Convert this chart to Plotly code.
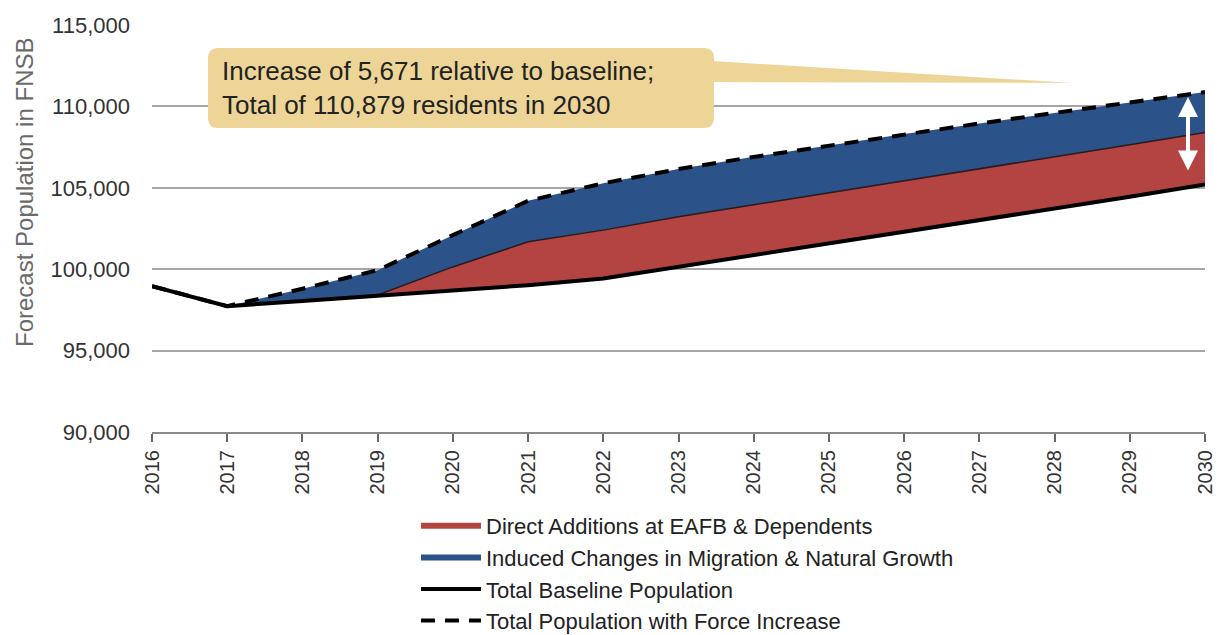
import plotly.graph_objects as go

# FNSB population forecast
years = list(range(2016, 2031))
baseline = [98960, 97730, 98050, 98370, 98700, 99020, 99430, 100150,
            100860, 101560, 102260, 102990, 103700, 104450, 105208]
direct = [0, 0, 0, 50, 1440, 2660, 2970, 3070, 3100, 3130, 3170, 3170, 3200, 3190, 3182]
induced = [0, 0, 750, 1520, 1950, 2520, 2880, 2930, 2940, 2910, 2870, 2790, 2700, 2600, 2489]

with_direct = [b + d for b, d in zip(baseline, direct)]
total = [w + i for w, i in zip(with_direct, induced)]

callout_text = "Increase of 5,671 relative to baseline;<br>Total of 110,879 residents in 2030"

RED = "#B44442"
BLUE = "#2C528A"
TAN = "#EDD597"
NARROW = "Liberation Sans Narrow, Arial Narrow, Liberation Sans, Arial, sans-serif"
ARIAL = "Liberation Sans, Arial, sans-serif"

# page offset (body margin) and plot area in window pixels
OFF = 8
W, H = 1224 - OFF, 635 - OFF
L, R, T, B = 152, 1205, 25, 432
X0, X1, Y0, Y1 = 2016, 2030, 90000, 115000


def px_x(p):
    return X0 + (p - L) / (R - L) * (X1 - X0)


def px_y(p):
    return Y1 - (p - T) / (B - T) * (Y1 - Y0)


fig = go.Figure()

fig.add_trace(go.Scatter(x=years, y=baseline, mode="lines", line=dict(width=0),
                         showlegend=False, hoverinfo="skip"))
fig.add_trace(go.Scatter(x=years, y=with_direct, mode="none", fill="tonexty",
                         fillcolor=RED, name="Direct Additions at EAFB & Dependents"))
fig.add_trace(go.Scatter(x=years, y=total, mode="none", fill="tonexty",
                         fillcolor=BLUE, name="Induced Changes in Migration & Natural Growth"))
fig.add_trace(go.Scatter(x=years, y=with_direct, mode="lines",
                         line=dict(color="#2a1a1a", width=1.5),
                         showlegend=False, hoverinfo="skip"))
fig.add_trace(go.Scatter(x=years, y=baseline, mode="lines",
                         line=dict(color="black", width=4),
                         name="Total Baseline Population"))
fig.add_trace(go.Scatter(x=years, y=total, mode="lines",
                         line=dict(color="black", width=4, dash="14px,10px"),
                         name="Total Population with Force Increase"))

# callout box with rounded corners + pointer wedge
bx0, bx1, by0, by1 = px_x(208), px_x(714), px_y(48), px_y(128)
rx, ry = 10 / (R - L) * (X1 - X0), 10 / (B - T) * (Y1 - Y0)
box_path = (
    f"M{bx0 + rx},{by0} L{bx1 - rx},{by0} Q{bx1},{by0} {bx1},{by0 - ry} "
    f"L{bx1},{by1 + ry} Q{bx1},{by1} {bx1 - rx},{by1} "
    f"L{bx0 + rx},{by1} Q{bx0},{by1} {bx0},{by1 + ry} "
    f"L{bx0},{by0 - ry} Q{bx0},{by0} {bx0 + rx},{by0} Z"
)
wedge_path = (
    f"M{px_x(712)},{px_y(61)} L{px_x(1073)},{px_y(83)} L{px_x(712)},{px_y(82)} Z"
)
shapes = [
    dict(type="path", path=wedge_path, xref="x", yref="y",
         fillcolor=TAN, line=dict(width=0), layer="above"),
    dict(type="path", path=box_path, xref="x", yref="y",
         fillcolor=TAN, line=dict(width=0), layer="above"),
]

annotations = [
    dict(text=callout_text, x=px_x(220), y=px_y(88), xref="x", yref="y",
         xanchor="left", yanchor="middle", align="left", showarrow=False,
         font=dict(family=ARIAL, size=26, color="#222222")),
    # white double arrow showing the 2030 increase
    dict(x=px_x(1188), y=px_y(97), ax=px_x(1188), ay=px_y(172),
         xref="x", yref="y", axref="x", ayref="y", text="",
         showarrow=True, arrowhead=2, arrowside="end+start",
         arrowsize=1, arrowwidth=4, arrowcolor="white"),
    dict(text="Forecast Population in FNSB", textangle=-90,
         x=(24 - L) / (R - L), y=(B - 193) / (B - T), xref="paper", yref="paper",
         xanchor="center", yanchor="middle", showarrow=False,
         font=dict(family=NARROW, size=24, color="#6a6a6a")),
]

fig.update_layout(
    width=W, height=H,
    margin=dict(l=L - OFF, r=1224 - R, t=T - OFF, b=635 - B, autoexpand=False),
    paper_bgcolor="white", plot_bgcolor="white",
    shapes=shapes, annotations=annotations,
    showlegend=True,
    legend=dict(x=(416 - L) / (R - L), y=(B - 505) / (B - T),
                xanchor="left", yanchor="top", itemwidth=60,
                traceorder="normal",
                font=dict(family=NARROW, size=22, color="#222222"),
                bgcolor="rgba(0,0,0,0)", tracegroupgap=0),
)

fig.update_xaxes(range=[X0, X1], dtick=1, tickangle=-90, ticks="outside",
                 ticklen=8, tickwidth=1.5, tickcolor="#666666",
                 showline=True, linecolor="#8a8a8a", linewidth=2,
                 showgrid=False, zeroline=False,
                 tickfont=dict(family=NARROW, size=20, color="#333333"))
fig.update_yaxes(range=[Y0, Y1], dtick=5000, tickformat=",",
                 showgrid=True, gridcolor="#a6a6a6", gridwidth=2,
                 zeroline=False, showline=False, ticklabelstandoff=21,
                 tickfont=dict(family=NARROW, size=22, color="#333333"))

fig.write_html("out.html")
